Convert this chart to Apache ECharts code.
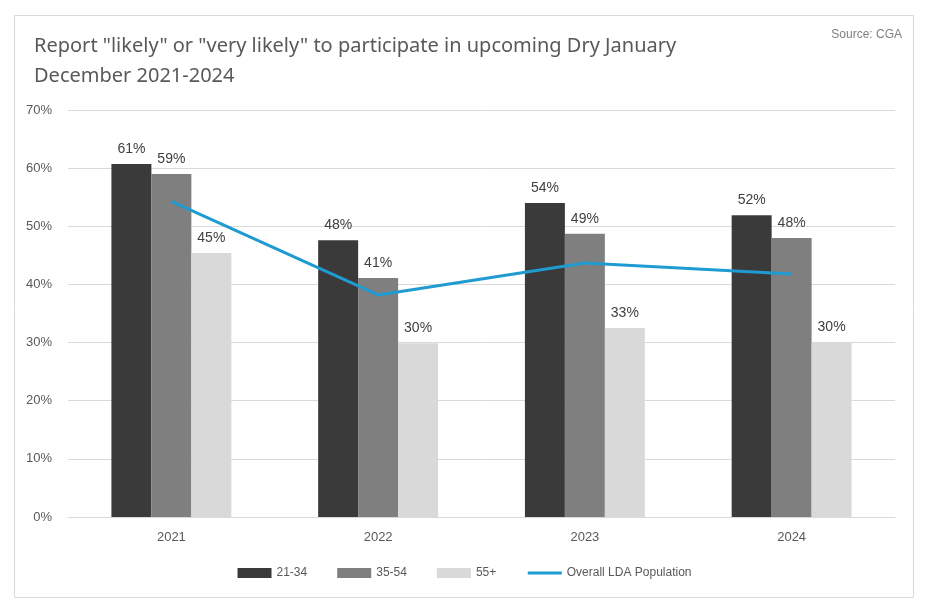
<!DOCTYPE html>
<html><head><meta charset="utf-8">
<script src="https://cdn.jsdelivr.net/npm/echarts@6/dist/echarts.min.js"></script>
<style>html,body{margin:0;padding:0;background:#fff}#c{width:929px;height:608px}</style>
</head><body><div id="c"></div>
<script>
const categories = ['2021', '2022', '2023', '2024'];
const s2134 = [60.7, 47.6, 54.0, 51.9];
const s3554 = [59.0, 41.1, 48.7, 48.0];
const s55 = [45.4, 29.9, 32.5, 30.1];
const overall = [54.3, 38.2, 43.7, 41.8];
const yTicks = [0, 10, 20, 30, 40, 50, 60, 70];

const chart = echarts.init(document.getElementById('c'), null, {renderer: 'canvas'});
const FONT = 'Liberation Sans';
const lbl = {show: true, position: 'top', distance: 8, color: '#404040', fontSize: 14, fontFamily: FONT,
  formatter: p => Math.round(p.value) + '%'};
chart.setOption({
  animation: false,
  graphic: [{type: 'rect', shape: {x: 14.5, y: 15.5, width: 899, height: 582},
    style: {fill: 'none', stroke: '#d9d9d9', lineWidth: 1}}],
  title: [{text: 'Report "likely" or "very likely" to participate in upcoming Dry January\nDecember 2021-2024',
    left: 29, top: 26, textStyle: {fontFamily: 'Noto Sans', fontWeight: 'normal', fontSize: 20, color: '#595959', lineHeight: 30}},
    {text: 'Source: CGA', right: 22, top: 24, textStyle: {fontFamily: FONT, fontWeight: 'normal', fontSize: 12, color: '#7f7f7f'}}],
  legend: {bottom: 24, left: 'center', itemWidth: 34, itemHeight: 10, itemGap: 30,
    textStyle: {fontFamily: FONT, fontSize: 12, color: '#595959'},
    data: [{name: '21-34', icon: 'rect'}, {name: '35-54', icon: 'rect'}, {name: '55+', icon: 'rect'},
      {name: 'Overall LDA Population', itemStyle: {opacity: 0}, lineStyle: {width: 3}}]},
  grid: {left: 68, right: 34, top: 110, bottom: 91},
  xAxis: {type: 'category', data: categories,
    axisLine: {lineStyle: {color: '#d9d9d9'}}, axisTick: {show: false},
    axisLabel: {color: '#595959', fontSize: 13, fontFamily: FONT, margin: 14}},
  yAxis: {type: 'value', min: 0, max: 70, interval: 10,
    axisLabel: {formatter: v => yTicks.includes(v) ? v + '%' : '', color: '#595959', fontSize: 13, fontFamily: FONT, margin: 16},
    splitLine: {lineStyle: {color: '#d9d9d9'}}, axisLine: {show: false}},
  series: [
    {name: '21-34', type: 'bar', data: s2134, itemStyle: {color: '#3a3a3a'}, barGap: '0%', barCategoryGap: '42%', label: lbl},
    {name: '35-54', type: 'bar', data: s3554, itemStyle: {color: '#7f7f7f'}, label: lbl},
    {name: '55+', type: 'bar', data: s55, itemStyle: {color: '#d9d9d9'}, label: lbl},
    {name: 'Overall LDA Population', type: 'line', data: overall, symbol: 'none',
      lineStyle: {color: '#1f9bd1', width: 3}, itemStyle: {color: '#1f9bd1'}}
  ]
});
</script></body></html>
